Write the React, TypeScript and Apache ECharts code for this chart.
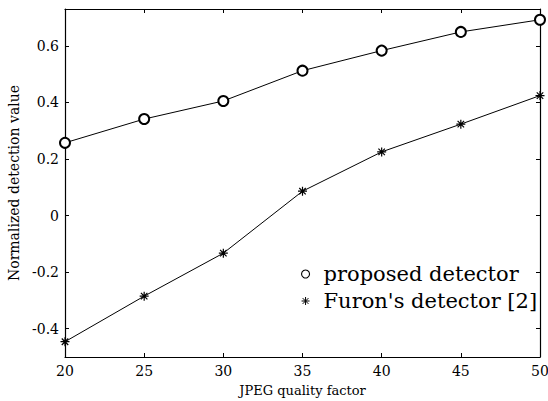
import React, { useEffect, useRef } from "react";
import * as echarts from "echarts";

const qualityFactors = [20, 25, 30, 35, 40, 45, 50];
const proposedDetector = [0.257, 0.341, 0.405, 0.512, 0.583, 0.649, 0.692];
const furonDetector = [-0.446, -0.285, -0.133, 0.086, 0.225, 0.323, 0.424];
const yTickValues = [-0.4, -0.2, 0, 0.2, 0.4, 0.6];

const SERIF = "'DejaVu Serif', 'Liberation Serif', serif";
const ASTERISK =
  "path://M0,-5L0,5M-5,0L5,0M-3.6,-3.6L3.6,3.6M-3.6,3.6L3.6,-3.6";

export default function App() {
  const ref = useRef<HTMLDivElement>(null);
  useEffect(() => {
    if (!ref.current) return;
    const chart = echarts.init(ref.current, undefined, { renderer: "svg" });
    const axisLine = { show: true, onZero: false, lineStyle: { color: "#000", width: 1.2 } };
    const tick = { show: true, inside: true, length: 4, lineStyle: { color: "#000", width: 1 } };
    const fmtY = (v: number) => {
      const r = Math.round(v * 10) / 10;
      return r === 0 ? "0" : r.toFixed(1);
    };
    chart.setOption({
      animation: false,
      backgroundColor: "#fff",
      grid: {
        left: 65,
        right: 8,
        top: 9,
        bottom: 44,
        containLabel: false,
        outerBoundsMode: "none",
      },
      xAxis: [
        {
          type: "value",
          min: 20,
          max: 50,
          interval: 5,
          axisLine,
          axisTick: tick,
          splitLine: { show: false },
          axisLabel: { color: "#000", fontFamily: SERIF, fontSize: 14, margin: 7 },
          name: "JPEG quality factor",
          nameLocation: "middle",
          nameGap: 27,
          nameTextStyle: { color: "#000", fontFamily: SERIF, fontSize: 13 },
        },
        {
          type: "value",
          position: "top",
          min: 20,
          max: 50,
          interval: 5,
          axisLine,
          axisTick: tick,
          splitLine: { show: false },
          axisLabel: { show: false },
        },
      ],
      yAxis: [
        {
          type: "value",
          min: -0.5,
          max: 0.73,
          axisLine,
          axisTick: { ...tick, customValues: yTickValues },
          splitLine: { show: false },
          axisLabel: {
            color: "#000",
            fontFamily: SERIF,
            fontSize: 14,
            margin: 6,
            customValues: yTickValues,
            formatter: fmtY,
          },
          name: "Normalized detection value",
          nameLocation: "middle",
          nameGap: 42,
          nameTextStyle: { color: "#000", fontFamily: SERIF, fontSize: 14 },
        },
        {
          type: "value",
          position: "right",
          min: -0.5,
          max: 0.73,
          axisLine,
          axisTick: { ...tick, customValues: yTickValues },
          splitLine: { show: false },
          axisLabel: { show: false },
        },
      ],
      legend: {
        orient: "vertical",
        left: 296,
        top: 258,
        itemWidth: 8,
        itemHeight: 8,
        itemGap: 5,
        textStyle: {
          color: "#000",
          fontFamily: SERIF,
          fontSize: 21,
          lineHeight: 22,
          padding: [0, 0, 0, 9],
        },
        data: [
          {
            name: "proposed detector",
            icon: "circle",
            itemStyle: { color: "#fff", borderColor: "#000", borderWidth: 1.1 },
          },
          {
            name: "Furon's detector [2]",
            icon: ASTERISK,
            itemStyle: { color: "#000", borderColor: "#000", borderWidth: 1 },
          },
        ],
      },
      series: [
        {
          name: "proposed detector",
          type: "line",
          data: qualityFactors.map((q, i) => [q, proposedDetector[i]]),
          symbol: "emptyCircle",
          symbolSize: 10,
          lineStyle: { color: "#000", width: 1 },
          itemStyle: { color: "#000", borderColor: "#000", borderWidth: 0.8 },
        },
        {
          name: "Furon's detector [2]",
          type: "line",
          data: qualityFactors.map((q, i) => [q, furonDetector[i]]),
          symbol: ASTERISK,
          symbolSize: 9,
          lineStyle: { color: "#000", width: 1 },
          itemStyle: { color: "#000", borderColor: "#000", borderWidth: 1.2 },
        },
      ],
    });
    return () => chart.dispose();
  }, []);
  return (
    <div
      ref={ref}
      style={{ position: "fixed", left: 0, top: 0, width: 548, height: 401 }}
    />
  );
}
